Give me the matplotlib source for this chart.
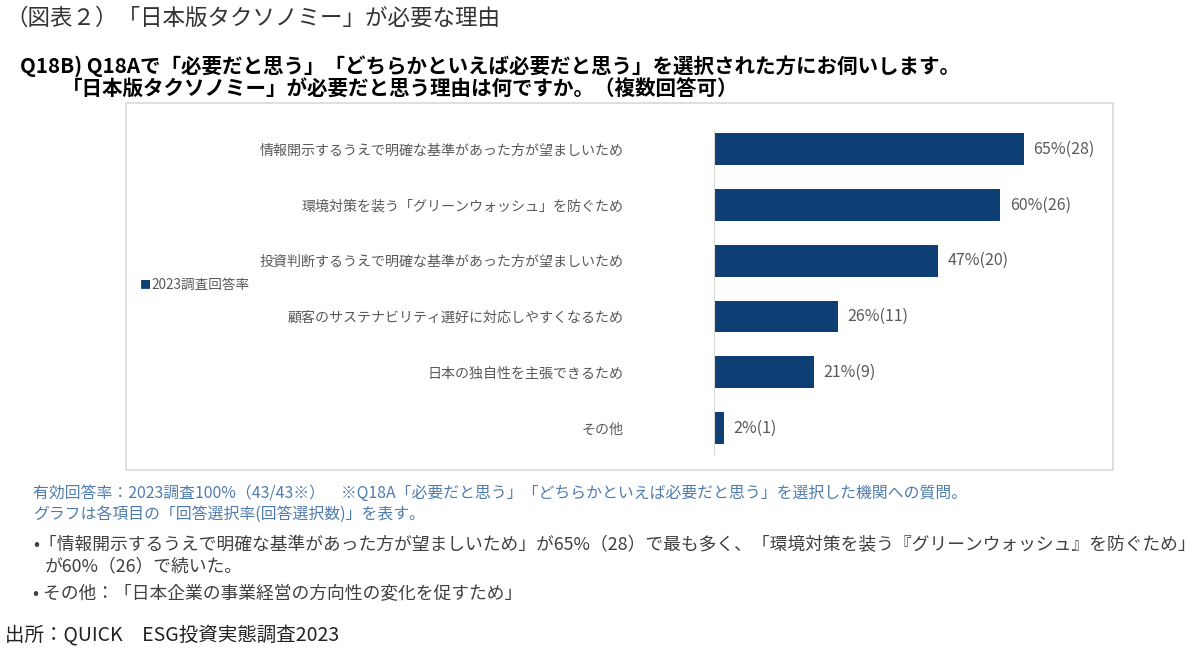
import numpy as np
import matplotlib
matplotlib.use("Agg")
import matplotlib.pyplot as plt
from matplotlib.patches import Rectangle

plt.rcParams['font.family'] = ['Noto Sans CJK JP', 'DejaVu Sans']

categories = [
    "情報開示するうえで明確な基準があった方が望ましいため",
    "環境対策を装う「グリーンウォッシュ」を防ぐため",
    "投資判断するうえで明確な基準があった方が望ましいため",
    "顧客のサステナビリティ選好に対応しやすくなるため",
    "日本の独自性を主張できるため",
    "その他",
]
rates = [65, 60, 47, 26, 21, 2]
counts = [28, 26, 20, 11, 9, 1]
series_name = "2023調査回答率"

BAR = '#0d3f74'
GRAY = '#595959'
NOTE = '#4f7cae'

fig = plt.figure(figsize=(12, 6.53), dpi=100)

# chart frame
fig.patches.append(Rectangle((126 / 1200, 1 - 470 / 653), 987 / 1200, 367 / 653,
                             transform=fig.transFigure, fill=False,
                             edgecolor='#d9d9d9', linewidth=1.2))

ax = fig.add_axes([714 / 1200, 1 - 455 / 653, 386 / 1200, 325 / 653])
y = np.arange(len(categories))
bars = ax.barh(y, rates, height=0.57, color=BAR)
ax.set_xlim(0, 81)
ax.set_ylim(5.48, -0.34)
ax.set_yticks(y, categories, fontsize=10.1, color=GRAY)
ax.tick_params(axis='y', length=0, pad=65)
ax.set_xticks([])
for s in ['top', 'right', 'bottom']:
    ax.spines[s].set_visible(False)
ax.spines['left'].set_color('#d9d9d9')
ax.bar_label(bars, labels=[f"{r}%({n})" for r, n in zip(rates, counts)],
             padding=7, fontsize=11.5, color=GRAY)

# legend
fig.text(140 / 1200, 1 - 285 / 653, "■", fontsize=8, color=BAR, va='center')
fig.text(151 / 1200, 1 - 285 / 653, series_name, fontsize=9.8, color=GRAY, va='center')

# titles
fig.text(5 / 1200, 1 - 18 / 653, "（図表２）「日本版タクソノミー」が必要な理由",
         fontsize=16.2, color='#333333', va='center')
fig.text(20 / 1200, 1 - 66 / 653,
         "Q18B) Q18Aで「必要だと思う」「どちらかといえば必要だと思う」を選択された方にお伺いします。",
         fontsize=14.8, fontweight='bold', color='black', va='center')
fig.text(62 / 1200, 1 - 89 / 653,
         "「日本版タクソノミー」が必要だと思う理由は何ですか。（複数回答可）",
         fontsize=14.8, fontweight='bold', color='black', va='center')

# notes
fig.text(33 / 1200, 1 - 493 / 653,
         "有効回答率：2023調査100%（43/43※）　※Q18A「必要だと思う」「どちらかといえば必要だと思う」を選択した機関への質問。",
         fontsize=11.4, color=NOTE, va='center')
fig.text(33 / 1200, 1 - 514 / 653,
         "グラフは各項目の「回答選択率(回答選択数)」を表す。",
         fontsize=11.4, color=NOTE, va='center')
fig.text(33 / 1200, 1 - 545 / 653,
         "•「情報開示するうえで明確な基準があった方が望ましいため」が65%（28）で最も多く、「環境対策を装う『グリーンウォッシュ』を防ぐため」",
         fontsize=12.8, color='#404040', va='center')
fig.text(45 / 1200, 1 - 566 / 653, "が60%（26）で続いた。",
         fontsize=12.8, color='#404040', va='center')
fig.text(33 / 1200, 1 - 594 / 653, "• その他：「日本企業の事業経営の方向性の変化を促すため」",
         fontsize=12.8, color='#404040', va='center')
fig.text(5 / 1200, 1 - 636 / 653, "出所：QUICK　ESG投資実態調査2023",
         fontsize=14, color='#222222', va='center')

fig.savefig("out.png", dpi=100)
